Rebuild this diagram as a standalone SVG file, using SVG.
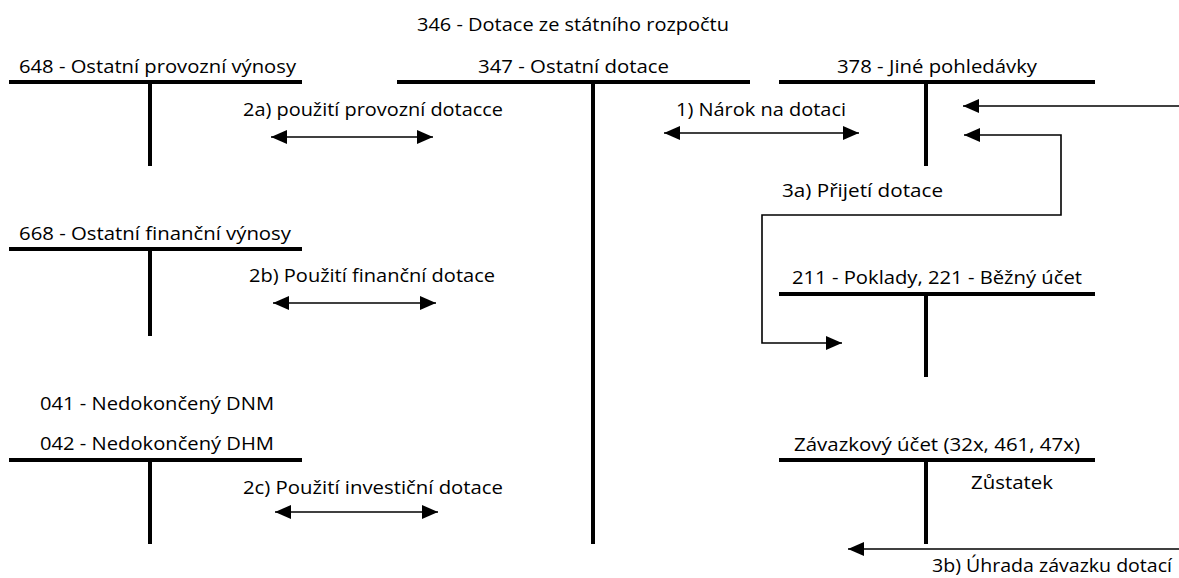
<svg xmlns="http://www.w3.org/2000/svg" width="1179" height="578" viewBox="0 0 1179 578">
<style>
text{font-family:"Open Sans","Liberation Sans",sans-serif;font-size:18.5px;fill:#000}
.bar{stroke:#000;stroke-width:4;fill:none}
.con{stroke:#000;stroke-width:1.6;fill:none}
</style>
<defs>
<marker id="ah" markerUnits="userSpaceOnUse" markerWidth="17" markerHeight="15" refX="16" refY="7" orient="auto-start-reverse" viewBox="0 0 17 15">
<path d="M0,0 L16,7 L0,14 z" fill="#000"/>
</marker>
</defs>
<rect width="1179" height="578" fill="#fff"/>
<text x="417" y="31" textLength="312" lengthAdjust="spacingAndGlyphs">346 - Dotace ze státního rozpočtu</text>

<g id="acc648">
<text x="19" y="73" textLength="277" lengthAdjust="spacingAndGlyphs">648 - Ostatní provozní výnosy</text>
<line class="bar" x1="9" y1="82" x2="302" y2="82"/>
<line class="bar" x1="150" y1="82" x2="150" y2="166"/>
</g>
<g id="acc347">
<text x="478" y="73" textLength="191" lengthAdjust="spacingAndGlyphs">347 - Ostatní dotace</text>
<line class="bar" x1="397" y1="82" x2="750" y2="82"/>
<line class="bar" x1="593" y1="82" x2="593" y2="544"/>
</g>
<g id="acc378">
<text x="837" y="73" textLength="200" lengthAdjust="spacingAndGlyphs">378 - Jiné pohledávky</text>
<line class="bar" x1="779" y1="82" x2="1095" y2="82"/>
<line class="bar" x1="926" y1="82" x2="926" y2="166"/>
</g>
<g id="acc668">
<text x="19" y="240" textLength="272" lengthAdjust="spacingAndGlyphs">668 - Ostatní finanční výnosy</text>
<line class="bar" x1="9" y1="249" x2="302" y2="249"/>
<line class="bar" x1="150" y1="249" x2="150" y2="336"/>
</g>
<g id="acc211">
<text x="792" y="284" textLength="290" lengthAdjust="spacingAndGlyphs">211 - Poklady, 221 - Běžný účet</text>
<line class="bar" x1="779" y1="294" x2="1095" y2="294"/>
<line class="bar" x1="926" y1="294" x2="926" y2="377"/>
</g>
<g id="acc042">
<text x="40" y="410" textLength="234" lengthAdjust="spacingAndGlyphs">041 - Nedokončený DNM</text>
<text x="40" y="450" textLength="234" lengthAdjust="spacingAndGlyphs">042 - Nedokončený DHM</text>
<line class="bar" x1="9" y1="460" x2="302" y2="460"/>
<line class="bar" x1="150" y1="460" x2="150" y2="544"/>
</g>
<g id="accZav">
<text x="794" y="451" textLength="286" lengthAdjust="spacingAndGlyphs">Závazkový účet (32x, 461, 47x)</text>
<line class="bar" x1="779" y1="460" x2="1095" y2="460"/>
<line class="bar" x1="926" y1="460" x2="926" y2="544"/>
<text x="971" y="489" textLength="82" lengthAdjust="spacingAndGlyphs">Zůstatek</text>
</g>

<g id="connectors">
<text x="243" y="116" textLength="260" lengthAdjust="spacingAndGlyphs">2a) použití provozní dotacce</text>
<line class="con" x1="271" y1="137" x2="433" y2="137" marker-start="url(#ah)" marker-end="url(#ah)"/>
<text x="676" y="116" textLength="170" lengthAdjust="spacingAndGlyphs">1) Nárok na dotaci</text>
<line class="con" x1="664" y1="133" x2="859" y2="133" marker-start="url(#ah)" marker-end="url(#ah)"/>
<line class="con" x1="1179" y1="106" x2="963" y2="106" marker-end="url(#ah)"/>
<path class="con" d="M964,135 H1061 V215 H762 V343 H842" marker-start="url(#ah)" marker-end="url(#ah)"/>
<text x="782" y="197" textLength="161" lengthAdjust="spacingAndGlyphs">3a) Přijetí dotace</text>
<text x="249" y="282" textLength="246" lengthAdjust="spacingAndGlyphs">2b) Použití finanční dotace</text>
<line class="con" x1="273" y1="303" x2="436" y2="303" marker-start="url(#ah)" marker-end="url(#ah)"/>
<text x="243" y="494" textLength="260" lengthAdjust="spacingAndGlyphs">2c) Použití investiční dotace</text>
<line class="con" x1="275" y1="512" x2="438" y2="512" marker-start="url(#ah)" marker-end="url(#ah)"/>
<line class="con" x1="1179" y1="549" x2="848" y2="549" marker-end="url(#ah)"/>
<text x="932" y="572" textLength="240" lengthAdjust="spacingAndGlyphs">3b) Úhrada závazku dotací</text>
</g>
</svg>
